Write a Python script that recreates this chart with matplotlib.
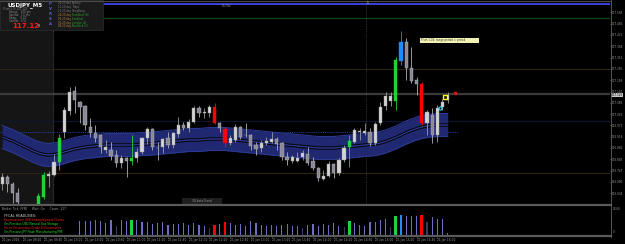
import matplotlib
matplotlib.use('Agg')
import matplotlib.pyplot as plt
from matplotlib.patches import Rectangle

W, H = 625, 244

# ---- M5 candles, USDJPY ----
opens = [116.680, 116.715, 116.680, 116.635, 116.560, 116.520, 116.540, 116.555, 116.615, 116.720,
         116.725, 116.790, 116.940, 117.045, 117.145, 117.090, 117.070, 116.965, 116.935, 116.925,
         116.850, 116.850, 116.825, 116.785, 116.810, 116.795, 116.810, 116.840, 116.910, 116.955,
         116.860, 116.865, 116.910, 116.875, 116.930, 116.975, 116.960, 116.990, 117.060, 117.035,
         117.035, 117.065, 116.985, 116.955, 116.885, 116.900, 116.965, 116.925, 116.925, 116.875,
         116.860, 116.885, 116.890, 116.905, 116.885, 116.815, 116.795, 116.795, 116.815, 116.830,
         116.795, 116.760, 116.705, 116.720, 116.780, 116.735, 116.800, 116.865, 116.890, 116.940,
         116.935, 116.940, 116.885, 116.985, 117.070, 117.095, 117.095, 117.295, 117.390, 117.260,
         117.200, 117.180, 116.985, 117.025, 116.925, 117.065, 117.100]
highs = [116.735, 116.725, 116.690, 116.660, 116.565, 116.555, 116.565, 116.635, 116.740, 116.745,
         116.830, 116.930, 117.065, 117.165, 117.170, 117.095, 117.075, 117.010, 116.975, 116.930,
         116.900, 116.890, 116.850, 116.825, 116.815, 116.925, 116.860, 116.915, 116.965, 116.960,
         116.890, 116.910, 116.940, 116.940, 117.015, 116.990, 117.005, 117.070, 117.070, 117.060,
         117.075, 117.085, 116.990, 116.965, 116.925, 116.980, 116.970, 116.985, 116.930, 116.890,
         116.900, 116.915, 116.940, 116.915, 116.890, 116.840, 116.825, 116.840, 116.850, 116.865,
         116.815, 116.765, 116.750, 116.795, 116.785, 116.810, 116.875, 116.925, 116.960, 116.960,
         116.985, 116.960, 116.990, 117.090, 117.140, 117.140, 117.315, 117.445, 117.410, 117.365,
         117.215, 117.190, 117.050, 117.060, 117.075, 117.105, 117.140]
lows = [116.650, 116.640, 116.585, 116.575, 116.500, 116.490, 116.525, 116.545, 116.605, 116.665,
        116.720, 116.750, 116.910, 117.025, 117.035, 116.985, 116.950, 116.915, 116.890, 116.835,
        116.835, 116.800, 116.765, 116.760, 116.715, 116.775, 116.790, 116.830, 116.880, 116.850,
        116.800, 116.835, 116.860, 116.860, 116.915, 116.950, 116.940, 116.985, 117.015, 117.010,
        117.015, 116.980, 116.940, 116.865, 116.875, 116.890, 116.905, 116.915, 116.850, 116.825,
        116.840, 116.875, 116.885, 116.850, 116.800, 116.775, 116.785, 116.790, 116.800, 116.775,
        116.750, 116.695, 116.700, 116.715, 116.710, 116.725, 116.790, 116.765, 116.885, 116.900,
        116.925, 116.870, 116.875, 116.975, 117.050, 117.070, 117.050, 117.275, 117.200, 117.185,
        117.125, 116.975, 116.925, 116.885, 116.890, 117.050, 117.085]
closes = [116.715, 116.680, 116.635, 116.590, 116.520, 116.540, 116.555, 116.620, 116.725, 116.730,
          116.790, 116.910, 117.050, 117.140, 117.100, 117.065, 116.975, 116.935, 116.910, 116.865,
          116.865, 116.820, 116.785, 116.810, 116.795, 116.810, 116.840, 116.910, 116.955, 116.865,
          116.858, 116.905, 116.875, 116.935, 116.975, 116.960, 116.990, 117.060, 117.035, 117.040,
          117.065, 116.985, 116.960, 116.885, 116.910, 116.965, 116.915, 116.923, 116.870, 116.855,
          116.885, 116.895, 116.905, 116.880, 116.815, 116.800, 116.815, 116.810, 116.835, 116.785,
          116.760, 116.710, 116.720, 116.780, 116.735, 116.800, 116.860, 116.895, 116.950, 116.945,
          116.945, 116.885, 116.980, 117.065, 117.120, 117.120, 117.300, 117.390, 117.260, 117.195,
          117.180, 116.985, 117.040, 116.925, 117.060, 117.090, 117.125]

# highlighted candles (index -> colour key)
mark_idx = [7, 8, 11, 25, 41, 43, 67, 76, 77, 81]
mark_key = ['g', 'g', 'g', 'g', 'r', 'r', 'g', 'g', 'b', 'r']

# moving-average channel middle line
band_mid = [116.915, 116.905, 116.895, 116.8825, 116.870, 116.8575, 116.845, 116.835, 116.8275, 116.825,
            116.8275, 116.8325, 116.840, 116.8475, 116.855, 116.860, 116.865, 116.8675, 116.870, 116.8725,
            116.875, 116.875, 116.875, 116.875, 116.875, 116.875, 116.8775, 116.880, 116.880, 116.8825,
            116.885, 116.8875, 116.890, 116.8925, 116.895, 116.8975, 116.900, 116.900, 116.900, 116.9025,
            116.905, 116.905, 116.905, 116.905, 116.9025, 116.900, 116.8975, 116.895, 116.8925, 116.890,
            116.8875, 116.885, 116.8825, 116.880, 116.8775, 116.875, 116.8725, 116.870, 116.8675, 116.865,
            116.8625, 116.860, 116.860, 116.860, 116.860, 116.8625, 116.865, 116.8675, 116.870, 116.8725,
            116.875, 116.8775, 116.880, 116.885, 116.8925, 116.9025, 116.9125, 116.925, 116.9375, 116.9475,
            116.9575, 116.965, 116.970, 116.9725, 116.975, 116.975, 116.975]
band_half = 0.0575

# horizontal levels
lvl_blue = 117.5775
lvl_green = 117.510
lvl_brown = [117.255, 116.735]
lvl_gray = 117.130
lvl_navy = 116.995
lvl_dotted = 116.940
last_price = 117.125

price_ticks = [117.538, 117.482, 117.425, 117.368, 117.312, 117.255, 117.199, 117.142, 117.086,
               117.029, 116.973, 116.916, 116.860, 116.803, 116.747, 116.690, 116.634]

# volume-ish histogram for candles 15..86
vol = [14, 14, 14, 14.7, 14, 11.7, 15, 9, 14.7, 14, 14.7, 15, 12.7, 12.3, 10.7, 11.3, 12.3, 10,
       10.7, 10.7, 11.7, 10, 11.3, 10, 9, 6.7, 10, 10.7, 12.7, 11.3, 10, 10.7, 8.3, 13.3, 11.3, 10,
       9, 10, 9, 10, 10.7, 9, 8.3, 6.7, 10, 10.7, 9, 10.7, 10, 11.3, 9, 7.3, 14, 11.3, 10, 9,
       12.3, 13, 15, 15.7, 7.3, 18.3, 20, 19, 19, 19, 20, 12.3, 18, 15.7, 15.7, 1.7]
vol_start = 15
dark_vol = [7, 25, 43, 51, 60, 67]

hours = ['09:00', '09:20', '09:40', '10:00', '10:20', '10:40', '11:00', '11:20', '11:40', '12:00',
         '12:20', '12:40', '13:00', '13:20', '13:40', '14:00', '14:20', '14:40', '15:00', '15:20',
         '15:40', '16:00']

sessions = ['Sydney', 'Tokyo', 'HongKong', 'Frankfurt (8)', 'Frankfurt', 'London (2)', 'NewYork (1)']
session_times = ['24:20 day', '11:20 day', '13:20 day', '24:20 day', '03:20 day', '05:20 day', '08:20 day']
headlines = ['Revenue prior USD Unemployment Claims', 'Yes Previous USD Natural Gas Storage',
             'Yes in Yes previous Crude Oil Inventories', 'Yes Previous JPY Flash Manufacturing PMI']

# ---------------------------------------------------------------
colors = {'g': '#1fd23c', 'r': '#ff0000', 'b': '#1e8cff'}
step = 5.18
x0 = 2.2
xlim = (-x0 / step, (610 - x0) / step)


def fx(px):
    return px / W


def fy(py):
    return 1 - py / H


def price_of(py):
    return 117.6 - py * 0.005


fig = plt.figure(figsize=(W / 100, H / 100), dpi=100, facecolor='#000000')

ax = fig.add_axes([0, fy(205), fx(610), (205 - 1) / H])
ax.set_facecolor('#000000')
ax.set_xlim(*xlim)
ax.set_ylim(price_of(205), price_of(1))
for s in ax.spines.values():
    s.set_visible(False)
ax.set_xticks([])
ax.yaxis.tick_right()
ax.set_yticks(price_ticks)
ax.set_yticklabels(['%.3f' % t for t in price_ticks])
ax.tick_params(axis='y', colors='#9a9a9a', labelsize=2.0, length=1.0, width=0.4, pad=0.4)

n = len(opens)
idx = list(range(n))

# lighter left zone
ax.axvspan(xlim[0], (53 - x0) / step, color='#151515', zorder=0)

# channel
up = [m + band_half for m in band_mid]
lo = [m - band_half for m in band_mid]
ax.fill_between(idx, lo, up, color='#1f2870', lw=0, zorder=1)
ax.plot(idx, up, color='#2a3890', lw=0.8, zorder=1)
ax.plot(idx, lo, color='#2a3890', lw=0.8, zorder=1)
ax.plot(idx, [m + 0.006 for m in band_mid], color='#050505', lw=0.7, zorder=1)
ax.plot(idx, [m - 0.006 for m in band_mid], color='#050505', lw=0.7, zorder=1)
ax.plot(idx, band_mid, color='#3846a8', lw=0.4, zorder=1)

# levels
ax.axhline(lvl_gray, color='#3a3a3a', lw=1.6, zorder=0.5)
ax.axhline(lvl_navy, color='#0c1630', lw=0.8, zorder=0.5)
for lv in lvl_brown:
    ax.axhline(lv, color='#2e2515', lw=0.8, zorder=0.5)
ax.plot([xlim[0], 88], [lvl_dotted, lvl_dotted], color='#2050c0', lw=0.6, ls=(0, (1, 1.2)), zorder=0.5)
ax.plot([(103 - x0) / step, xlim[1]], [lvl_blue, lvl_blue], color='#4a4cff', lw=1.2, zorder=3)
ax.plot([(103 - x0) / step, xlim[1]], [lvl_green, lvl_green], color='#0d4a12', lw=0.8, zorder=0.5)
ax.axvline((53 - x0) / step, color='#555555', lw=0.5, ls=(0, (1, 1.5)), zorder=0.6)
ax.axvline((366.5 - x0) / step, color='#555555', lw=0.5, ls=(0, (1, 1.5)), zorder=0.6)

# candles
body_col = []
edge_col = []
for i in idx:
    if i in mark_idx:
        c = colors[mark_key[mark_idx.index(i)]]
        body_col.append(c)
        edge_col.append(c)
    elif closes[i] >= opens[i]:
        body_col.append('#d4d4d4')
        edge_col.append('#9a9a9a')
    else:
        body_col.append('#8a8a96')
        edge_col.append('#b0b0b8')
ax.vlines(idx, lows, highs, colors=edge_col, lw=0.6, zorder=2)
bottoms = [min(o, c) for o, c in zip(opens, closes)]
heights = [max(abs(o - c), 0.003) for o, c in zip(opens, closes)]
ax.bar(idx, heights, bottom=bottoms, width=0.62, color=body_col, edgecolor=edge_col,
       linewidth=0.3, zorder=2.5)

# markers near last candles
ax.scatter([84.5], [price_of(108)], s=5, facecolor='#0a0a0a', edgecolor='#40e0ff', lw=0.8, zorder=4)
ax.scatter([85.5], [price_of(97.5)], s=7, marker='s', facecolor='#0a0a0a', edgecolor='#ffff00', lw=1, zorder=4)
ax.scatter([87.4], [price_of(93.5)], s=3, marker='s', color='#e01010', zorder=4)

# current price label
ax.text(1.003, (last_price - price_of(205)) / (price_of(1) - price_of(205)), '%.3f' % last_price,
        transform=ax.transAxes, fontsize=2.0, color='#000000', va='center', ha='left',
        bbox=dict(boxstyle='square,pad=0.15', fc='#c8c8c8', ec='none'))

# ---- indicator panel ----
ax2 = fig.add_axes([0, fy(235), fx(610), 29 / H])
ax2.set_facecolor('#000000')
ax2.set_xlim(*xlim)
ax2.set_ylim(-0.5, 28.5)
for s in ax2.spines.values():
    s.set_visible(False)
ax2.set_xticks([])
ax2.set_yticks([])
vx = [vol_start + k for k in range(len(vol))]
vcol = []
vw = []
for k in range(len(vol)):
    i = vol_start + k
    if i in mark_idx:
        vcol.append(colors[mark_key[mark_idx.index(i)]])
        vw.append(0.55)
    elif k in dark_vol:
        vcol.append('#3a3a62')
        vw.append(0.22)
    else:
        vcol.append('#6e6ec0')
        vw.append(0.22)
ax2.bar(vx, vol, width=vw, color=vcol, zorder=2)

ax2.text(0.004, 0.97, 'Broker Tick: FFIN     Wait: On     Count: 127', transform=ax2.transAxes,
         fontsize=2.2, color='#9a9a9a', va='top')
ax2.text(0.006, 0.74, 'FFCAL HEADLINES:', transform=ax2.transAxes, fontsize=2.4, color='#d0d0d0', va='top')
hl_cols = ['#ff2020', '#30e030', '#ff2020', '#30e030']
for k, (t, c) in enumerate(zip(headlines, hl_cols)):
    ax2.text(0.006, 0.60 - k * 0.14, t, transform=ax2.transAxes, fontsize=2.1, color=c, va='top')

# separators / frame
for py, lw, c in [(205.3, 1.6, '#5a5a5a'), (235.6, 1.6, '#5a5a5a')]:
    fig.add_artist(plt.Line2D([0, fx(611)], [fy(py), fy(py)], color=c, lw=lw))
fig.add_artist(plt.Line2D([fx(611), fx(611)], [fy(0), fy(237)], color='#606060', lw=0.6))
fig.add_artist(plt.Line2D([0, fx(611)], [fy(0.5), fy(0.5)], color='#4a4a4a', lw=0.8))
fig.text(fx(612.5), fy(209), '28.60', fontsize=2.0, color='#9a9a9a', va='center')
fig.text(fx(612.5), fy(232), '0', fontsize=2.0, color='#9a9a9a', va='center')

# time labels
for k, h in enumerate(hours):
    i = 4 * k
    lab = '21 Jan 2016' if k == 0 else '21 Jan ' + h
    px = x0 + step * i
    fig.text(fx(px), fy(240.5), lab, fontsize=2.1, color='#a0a0a0', va='center', ha='left')
    fig.add_artist(plt.Line2D([fx(px), fx(px)], [fy(236.5), fy(238)], color='#707070', lw=0.4))

# info box top-left
fig.add_artist(Rectangle((0, fy(30)), fx(103), 30 / H, facecolor='#1a1a1a', edgecolor='#2e2e2e', lw=0.5))
fig.text(fx(8), fy(5), 'USDJPY_M5', fontsize=4, color='#ffffff', weight='bold', va='center')
fig.text(fx(3), fy(9.5), 'Pivot(1.9) 117.125', fontsize=1.9, color='#8a8a8a', va='center')
small_rows = ['Range:   100 pts', 'Spread:  1.6 pts', 'Swap:    0.00', 'Candle:  3:51']
for k, t in enumerate(small_rows):
    fig.text(fx(9), fy(12.5 + k * 2.8), t, fontsize=1.9, color='#8a8a8a', va='center')
fig.text(fx(12), fy(25.5), '117.12', fontsize=5, color='#ff1a1a', weight='bold', va='center')
fig.text(fx(38), fy(26), '8', fontsize=2.5, color='#cfcfcf', va='center')
for k, ch in enumerate('PVRSA'):
    fig.text(fx(50), fy(4 + k * 5), ch, fontsize=2.8, color='#5060d0', va='center', ha='center', weight='bold')
for k, (tm, nm) in enumerate(zip(session_times, sessions)):
    yy = fy(3.3 + k * 3.85)
    tcol = '#808080' if k < 3 else '#c08040'
    ncol = '#808080' if k < 3 else '#2aa82a'
    fig.text(fx(58), yy, tm, fontsize=1.9, color=tcol, va='center')
    fig.text(fx(72), yy, nm, fontsize=1.9, color=ncol, va='center')

# misc labels
fig.text(fx(222), fy(6), 'R(2)6d', fontsize=2.0, color='#8a8a8a', va='center')
fig.text(fx(366.5), fy(2.5), 'Tu', fontsize=2.0, color='#c8c020', va='center')
fig.add_artist(Rectangle((fx(420), fy(42.5)), fx(59), 5 / H, facecolor='#f2f2b4', edgecolor='none'))
fig.text(fx(421), fy(40.2), 'Pivot 1.04: range period = period', fontsize=1.9, color='#303030', va='center')
fig.add_artist(Rectangle((fx(182), fy(203.5)), fx(40), 5.5 / H, facecolor='#1e1e1e', edgecolor='none'))
fig.text(fx(202), fy(200.8), '30-beta Trend', fontsize=2.1, color='#9a9a9a', va='center', ha='center')

fig.savefig('out.png', dpi=100, facecolor=fig.get_facecolor())
